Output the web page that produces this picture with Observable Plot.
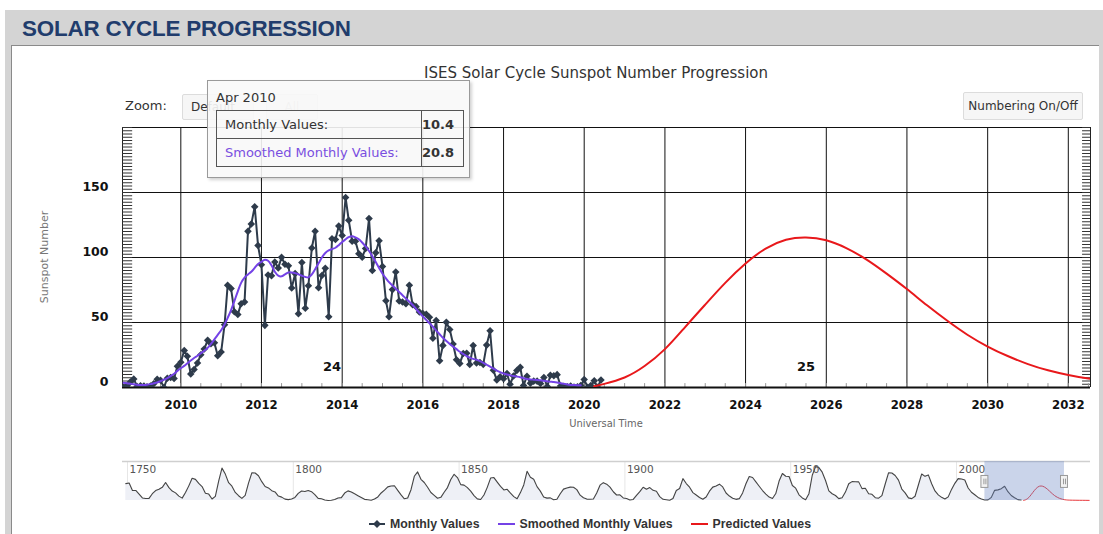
<!DOCTYPE html>
<html>
<head>
<meta charset="utf-8">
<script src="https://cdn.jsdelivr.net/npm/d3@7"></script>
<script src="https://cdn.jsdelivr.net/npm/@observablehq/plot@0.6"></script>
<style>
html,body{margin:0;padding:0;width:1103px;height:534px;overflow:hidden;background:#fff;font-family:"DejaVu Sans",sans-serif;}
.abs{position:absolute;}
#frame{left:5px;top:10px;width:1098px;height:524px;background:#d4d4d4;}
#hdr{left:22px;top:16px;font:bold 22.4px "Liberation Sans",Arial,sans-serif;color:#213c6c;letter-spacing:-0.2px;white-space:nowrap;}
#panel{left:11px;top:45px;width:1087px;height:489px;background:#fff;border-left:1px solid #8a8a8a;border-top:1px solid #8a8a8a;}
#title{left:596px;top:64px;transform:translateX(-50%);font-size:15px;color:#333;white-space:nowrap;}
#zoomlbl{left:125px;top:98px;font-size:13px;color:#333;}
.btn{background:#f6f6f6;border:1px solid #dcdcdc;border-radius:2px;font-size:12px;color:#333;box-sizing:border-box;display:flex;align-items:center;justify-content:center;}
#bDef{left:182px;top:94px;width:72px;height:26px;justify-content:flex-start;padding-left:8px;}
#bAll{left:266px;top:94px;width:52px;height:26px;color:#bbb;}
#bNum{left:963px;top:92px;width:120px;height:28px;}
#main{left:0;top:45px;}
#nav{left:0;top:450px;}
#ylab{left:44px;top:257px;transform:translate(-50%,-50%) rotate(-90deg);font-size:11px;color:#777;white-space:nowrap;}
#xlab{left:606px;top:417px;transform:translateX(-50%);font-size:11px;color:#666;white-space:nowrap;font-stretch:condensed;font-family:"DejaVu Sans Condensed","DejaVu Sans",sans-serif;}
#tip{left:207px;top:80px;width:263px;height:98px;box-sizing:border-box;background:rgba(248,248,248,0.9);border:1px solid #9a9a9a;box-shadow:2px 2px 3px rgba(0,0,0,0.18);}
#tipdate{position:absolute;left:8px;top:9px;font-size:13px;color:#333;}
#tip table{position:absolute;left:8px;top:29px;width:248px;border-collapse:collapse;font-size:13px;color:#333;}
#tip td{border:1px solid #555;height:27px;padding:0 0 0 8px;}
#tip td.v{font-weight:bold;text-align:right;padding:0 9px 0 0;width:32px;}
#tip tr.sm td:first-child{color:#7a4fe0;}
#legend{left:0;top:517px;width:1180px;display:flex;justify-content:center;align-items:center;font:bold 12.3px "Liberation Sans",Arial,sans-serif;color:#333;}
#legend .it{display:flex;align-items:center;margin:0 9px;}
#legend svg{margin-right:5px;}
#main svg g[aria-label="x-axis tick label"]{font-family:"DejaVu Sans Condensed","DejaVu Sans",sans-serif;font-stretch:condensed;font-weight:bold;font-size:13px;}
#main svg g[aria-label="y-axis tick label"]{font-family:"DejaVu Sans",sans-serif;font-weight:bold;font-size:12.5px;}
</style>
</head>
<body>
<div id="frame" class="abs"></div>
<div id="hdr" class="abs">SOLAR CYCLE PROGRESSION</div>
<div id="panel" class="abs"></div>
<div id="title" class="abs">ISES Solar Cycle Sunspot Number Progression</div>
<div id="zoomlbl" class="abs">Zoom:</div>
<div id="bDef" class="abs btn">Default</div>
<div id="bAll" class="abs btn">All</div>
<div id="bNum" class="abs btn">Numbering On/Off</div>
<div id="main" class="abs"></div>
<div id="ylab" class="abs">Sunspot Number</div>
<div id="xlab" class="abs">Universal Time</div>
<div id="nav" class="abs"></div>
<div id="tip" class="abs"><div id="tipdate"></div><table><tr><td id="tl1"></td><td class="v" id="tv1"></td></tr><tr class="sm"><td id="tl2"></td><td class="v" id="tv2"></td></tr></table></div>
<div id="legend" class="abs"></div>
<script>
// ---------- DATA ----------
const seriesNames = ["Monthly Values", "Smoothed Monthly Values", "Predicted Values"];
const seriesColors = ["#2e3b4b", "#7442e6", "#e8181b"];

// monthly sunspot numbers, first value = Aug 2008
const monthlyStart = "2008-08";
const monthlyValues = [
  0.0, 1.3, 4.2, 6.6, 0.8,
  1.3, 1.2, 0.6, 1.2, 2.9, 6.3, 5.5, 0.0, 7.1, 7.7, 6.9, 16.3,
  19.5, 28.5, 24.0, 10.4, 13.9, 18.8, 25.2, 29.6, 36.4, 33.6, 34.4, 24.5,
  27.3, 48.3, 78.6, 76.1, 58.2, 56.1, 64.5, 65.8, 120.1, 125.7, 139.1, 109.3,
  94.4, 47.8, 86.6, 85.9, 96.5, 92.0, 100.1, 94.8, 93.7, 76.5, 87.6, 56.8,
  96.1, 60.9, 78.3, 107.3, 120.2, 76.7, 86.2, 91.8, 54.5, 114.4, 113.9, 124.2,
  117.0, 146.1, 128.7, 112.5, 112.5, 102.9, 100.2, 106.9, 130.0, 90.0, 103.6, 112.9,
  93.0, 66.7, 54.5, 75.3, 88.8, 66.5, 65.8, 64.4, 78.6, 63.6, 62.2, 58.0,
  57.0, 56.4, 54.1, 37.9, 51.5, 20.5, 32.4, 50.2, 44.6, 33.4, 21.4, 18.5,
  26.1, 26.4, 17.7, 32.3, 18.9, 19.2, 17.8, 32.6, 43.6, 13.2, 5.7, 8.2,
  6.8, 10.7, 2.5, 8.9, 13.1, 15.6, 1.6, 8.7, 3.3, 4.9, 4.9, 3.1,
  7.7, 0.8, 9.4, 9.1, 9.9, 1.2, 0.9, 0.5, 1.1, 0.4, 0.5, 1.5,
  6.2, 0.2, 1.5, 5.2, 0.2, 5.8
];

// 13-month smoothed values, first value = Aug 2008
const smoothedStart = "2008-08";
const smoothedValues = [
  3.6, 3.3, 2.9, 2.5, 2.2,
  2.0, 2.0, 2.2, 2.6, 3.2, 3.9, 4.8, 6.0, 7.3, 8.8, 10.6, 12.8,
  14.8, 16.6, 18.6, 20.8, 22.7, 24.4, 26.3, 28.2, 30.5, 33.5, 37.0, 40.5,
  44.0, 48.5, 53.5, 59.5, 66.5, 74.0, 80.5, 84.5, 87.0, 89.0, 92.0, 95.0,
  96.7, 98.3, 97.5, 94.0, 89.0, 86.0, 85.5, 87.0, 88.5, 88.5, 88.0, 87.0,
  86.0, 85.0, 84.7, 87.0, 91.0, 95.5, 100.0, 103.5, 105.5, 106.5, 107.5, 109.5,
  112.0, 114.0, 115.7, 116.4, 115.5, 114.0, 111.5, 108.5, 105.0, 101.0, 96.5, 92.0,
  87.5, 84.0, 81.0, 78.5, 76.0, 73.5, 71.0, 68.5, 66.0, 63.5, 60.5, 57.5,
  54.7, 52.0, 49.5, 46.7, 43.8, 41.0, 38.3, 35.8, 33.5, 31.5, 29.5, 27.5,
  25.8, 24.2, 23.0, 22.0, 21.3, 20.3, 19.0, 17.5, 16.0, 14.5, 13.0, 11.8,
  10.8, 10.0, 9.4, 8.8, 8.4, 7.9, 7.2, 6.5, 6.2, 6.0, 5.8, 5.5,
  5.2, 4.8, 4.5, 4.2, 3.8, 3.3, 2.8, 2.3, 2.0, 1.9, 1.8, 1.8
];

// predicted cycle 25
const predictedDates = ["2020-04","2020-07","2021-01","2021-07","2022-01","2022-07","2023-01","2023-07",
  "2024-01","2024-07","2025-01","2025-07","2026-01","2026-07","2027-01","2027-07","2028-01","2028-07",
  "2029-01","2029-07","2030-01","2030-07","2031-01","2031-07","2032-01","2032-07","2033-01"];
const predictedValues = [1, 2.8, 7.7, 16.5, 29.5, 46.3, 63.8, 80.5,
  95.4, 106.8, 113.6, 115.4, 113.2, 107.2, 98.4, 87.6, 75.7, 63.2,
  51.3, 40.6, 31.5, 24.2, 18.0, 13.2, 9.6, 6.9, 5.0];
// tail of prediction seen only in navigator
const navTailYears = [2034, 2036, 2038, 2040];
const navTailValues = [3, 2, 1.5, 1];

// navigator: yearly sunspot numbers 1749..2019
const navStartYear = 1749;
const navYearly = [134.0,
  139.0, 79.5, 79.7, 51.2, 20.3, 16.0, 17.0, 54.0, 79.3, 90.0,
  104.8, 143.2, 102.0, 75.2, 60.7, 34.8, 19.0, 63.0, 116.3, 176.8,
  168.0, 136.0, 110.8, 58.0, 51.0, 11.7, 33.0, 154.2, 257.3, 209.8,
  141.3, 113.5, 64.2, 38.0, 17.0, 40.2, 138.2, 220.0, 218.2, 196.8,
  149.8, 111.0, 100.0, 78.2, 68.3, 35.5, 26.7, 10.7, 6.8, 11.3,
  24.2, 56.7, 75.0, 71.8, 79.2, 70.3, 46.8, 16.8, 13.5, 4.2,
  0.0, 2.3, 8.3, 20.3, 23.2, 59.0, 76.3, 68.3, 52.9, 38.5,
  24.2, 9.2, 6.3, 2.2, 11.4, 28.2, 59.9, 83.0, 108.5, 115.2,
  117.4, 80.8, 44.3, 13.4, 19.5, 85.8, 192.7, 227.3, 168.7, 143.0,
  105.5, 63.3, 40.3, 18.1, 25.1, 65.8, 102.7, 166.3, 208.3, 182.5,
  126.3, 122.0, 102.7, 74.1, 39.0, 12.7, 8.2, 43.4, 104.4, 178.3,
  182.2, 146.6, 112.1, 83.5, 89.2, 57.8, 30.7, 13.9, 62.8, 123.6,
  232.0, 185.3, 169.2, 110.1, 74.5, 28.3, 18.9, 20.7, 5.7, 10.0,
  53.7, 90.5, 99.0, 106.1, 105.8, 86.3, 42.4, 21.8, 11.2, 10.4,
  11.8, 59.5, 121.7, 142.0, 130.0, 106.6, 69.4, 43.8, 44.4, 20.2,
  15.7, 4.6, 8.5, 40.8, 70.1, 105.5, 90.1, 102.8, 80.9, 73.2,
  30.9, 9.5, 6.0, 2.4, 16.1, 79.0, 95.0, 173.6, 134.6, 105.7,
  62.7, 43.5, 23.7, 9.7, 27.9, 74.0, 106.5, 114.7, 129.7, 108.2,
  59.4, 35.1, 18.6, 9.2, 14.6, 60.2, 132.8, 190.6, 182.6, 148.0,
  113.0, 79.2, 50.8, 27.1, 16.1, 55.3, 154.3, 214.7, 193.0, 190.7,
  118.9, 98.3, 45.0, 20.1, 6.6, 54.2, 200.7, 269.3, 261.7, 225.1,
  159.0, 76.4, 53.4, 39.9, 15.0, 22.0, 66.8, 132.9, 150.0, 149.4,
  148.0, 94.4, 97.6, 54.1, 49.2, 22.5, 18.4, 39.3, 131.0, 220.1,
  218.9, 198.9, 162.4, 91.0, 60.5, 20.6, 14.8, 33.9, 123.0, 211.1,
  191.8, 203.3, 133.0, 76.1, 44.9, 25.1, 11.6, 28.9, 88.3, 136.3,
  173.9, 170.4, 163.6, 99.3, 65.3, 45.8, 24.7, 12.6, 4.2, 4.8,
  24.9, 80.8, 84.5, 94.0, 113.3, 69.8, 39.8, 21.7, 7.0, 3.6
];
const navTickYears = [1750, 1800, 1850, 1900, 1950, 2000];

const xTickYears = [2010, 2012, 2014, 2016, 2018, 2020, 2022, 2024, 2026, 2028, 2030, 2032];
const yTicks = [0, 50, 100, 150];
const cycleLabels = ["24", "25"];
const cycleLabelDates = ["2013-10", "2025-07"];
const cycleLabelValues = [16, 16];

const tooltipMonth = "2010-04";

// ---------- BUILD ----------
const pm = d3.utcParse("%Y-%m");
const monthly = monthlyValues.map((v, i) => ({date: d3.utcMonth.offset(pm(monthlyStart), i), value: v}));
const smoothed = smoothedValues.map((v, i) => ({date: d3.utcMonth.offset(pm(smoothedStart), i), value: v}));
const predicted = predictedDates.map((d, i) => ({date: pm(d), value: predictedValues[i]}));
const cycles = cycleLabels.map((t, i) => ({text: t, date: pm(cycleLabelDates[i]), value: cycleLabelValues[i]}));

const xStart = new Date(Date.UTC(2008, 6, 22));
const xEnd = new Date(Date.UTC(2032, 6, 20));
const DAY = 864e5;
const gridDates = xTickYears.map(y => new Date(Date.UTC(y, 0, 1)));
const halfYears = d3.utcMonth.every(6).range(d3.utcYear.ceil(xStart), xEnd);
const minorY = d3.range(0, 200.01, 2.5);

const main = Plot.plot({
  width: 1103, height: 395,
  marginLeft: 122, marginRight: 13, marginTop: 82, marginBottom: 53,
  x: {type: "utc", domain: [xStart, xEnd], label: null},
  y: {domain: [0, 200], label: null},
  style: {background: "transparent", overflow: "visible", fontFamily: "DejaVu Sans, sans-serif", fontSize: "13px", color: "#111"},
  marks: [
    Plot.ruleY([50, 100, 150], {stroke: "#111", strokeWidth: 1}),
    Plot.ruleY([200], {stroke: "#111", strokeWidth: 1.2}),
    Plot.ruleX(gridDates, {stroke: "#111", strokeWidth: 1}),
    Plot.ruleX([xStart, xEnd], {stroke: "#222", strokeWidth: 1}),
    Plot.ruleY(minorY, {x1: () => xStart, x2: () => new Date(+xStart + 92 * DAY), stroke: "#333", strokeWidth: 1}),
    Plot.ruleY(minorY, {x1: () => new Date(+xEnd - 72 * DAY), x2: () => xEnd, stroke: "#333", strokeWidth: 1}),
    Plot.ruleX(halfYears, {y1: 0, y2: 3, stroke: "#999", strokeWidth: 1}),
    Plot.ruleY([0], {stroke: "#111", strokeWidth: 2}),
    Plot.axisX({ticks: gridDates, tickFormat: "%Y", tickSize: 0, tickPadding: 12, fontWeight: "bold", fill: "#111", label: null}),
    Plot.axisY({ticks: yTicks, tickSize: 0, tickPadding: 14, dy: -6, fontWeight: "bold", fill: "#111", label: null}),
    Plot.text(cycles, {x: "date", y: "value", text: "text", fontWeight: "bold", fontSize: 13, fill: "#111"}),
    Plot.line(monthly, {x: "date", y: "value", stroke: seriesColors[0], strokeWidth: 2, clip: true}),
    Plot.dot(monthly, {x: "date", y: "value", symbol: "diamond2", r: 3.4, fill: seriesColors[0], clip: true}),
    Plot.line(predicted, {x: "date", y: "value", stroke: seriesColors[2], strokeWidth: 2, curve: "natural", clip: true}),
    Plot.line(smoothed, {x: "date", y: "value", stroke: seriesColors[1], strokeWidth: 2, curve: "catmull-rom", clip: true})
  ]
});
document.getElementById("main").appendChild(main);

// ---------- NAVIGATOR ----------
const toYear = d => d.getUTCFullYear() + d.getUTCMonth() / 12;
const navHist = navYearly.map((v, i) => ({x: navStartYear + i + 0.5, y: v}));
const navPred = predicted.map(d => ({x: toYear(d.date), y: d.value}))
  .concat(navTailYears.map((y, i) => ({x: y, y: navTailValues[i]})));
const selX1 = toYear(xStart) + (xStart.getUTCDate() - 1) / 365;
const selX2 = toYear(xEnd) + (xEnd.getUTCDate() - 1) / 365;
const handles = [selX1, selX2];

const nav = Plot.plot({
  width: 1103, height: 55,
  marginLeft: 122, marginRight: 13, marginTop: 11, marginBottom: 5,
  x: {domain: [1748.5, 2040.4], axis: null},
  y: {domain: [0, 310], axis: null},
  style: {background: "transparent", overflow: "visible", fontFamily: "DejaVu Sans, sans-serif"},
  marks: [
    Plot.ruleX(navTickYears, {stroke: "#e6e6e6"}),
    Plot.ruleY([310], {stroke: "#cfcfcf", strokeWidth: 1.5}),
    Plot.areaY(navHist, {x: "x", y: "y", fill: "#eef0f6"}),
    Plot.lineY(navHist, {x: "x", y: "y", stroke: "#444", strokeWidth: 1.1}),
    Plot.lineY(navPred, {x: "x", y: "y", stroke: "#e8363a", strokeWidth: 1, curve: "natural"}),
    Plot.rect([0], {x1: () => selX1, x2: () => selX2, y1: 0, y2: 310, fill: "rgba(102,133,194,0.35)"}),
    Plot.text(navTickYears, {x: d => d, y: 310, text: d => String(d), textAnchor: "start", dx: 2, dy: 8, fontSize: 10.5, fill: "#555"}),
    Plot.rect(handles, {x1: d => d - 1.05, x2: d => d + 1.05, y1: 100, y2: 195, fill: "#f2f2f2", stroke: "#999", strokeWidth: 1}),
    Plot.ruleX(handles, {x: d => d - 0.3, y1: 125, y2: 170, stroke: "#999"}),
    Plot.ruleX(handles, {x: d => d + 0.3, y1: 125, y2: 170, stroke: "#999"})
  ]
});
document.getElementById("nav").appendChild(nav);

// ---------- TOOLTIP ----------
const tIdx = d3.utcMonth.count(pm(monthlyStart), pm(tooltipMonth));
const sIdx = d3.utcMonth.count(pm(smoothedStart), pm(tooltipMonth));
document.getElementById("tipdate").textContent = d3.utcFormat("%b %Y")(pm(tooltipMonth));
document.getElementById("tl1").textContent = seriesNames[0] + ":";
document.getElementById("tl2").textContent = seriesNames[1] + ":";
document.getElementById("tv1").textContent = monthlyValues[tIdx].toFixed(1);
document.getElementById("tv2").textContent = smoothedValues[sIdx].toFixed(1);

// ---------- LEGEND ----------
const leg = document.getElementById("legend");
seriesNames.forEach((name, i) => {
  const it = document.createElement("div");
  it.className = "it";
  const marker = i === 0
    ? `<svg width="16" height="10"><line x1="0" y1="5" x2="16" y2="5" stroke="${seriesColors[i]}" stroke-width="2"/><path d="M8 1 L12 5 L8 9 L4 5 Z" fill="${seriesColors[i]}"/></svg>`
    : `<svg width="17" height="10"><line x1="0" y1="5" x2="17" y2="5" stroke="${seriesColors[i]}" stroke-width="2"/></svg>`;
  it.innerHTML = marker + `<span>${name}</span>`;
  leg.appendChild(it);
});
</script>
</body>
</html>
